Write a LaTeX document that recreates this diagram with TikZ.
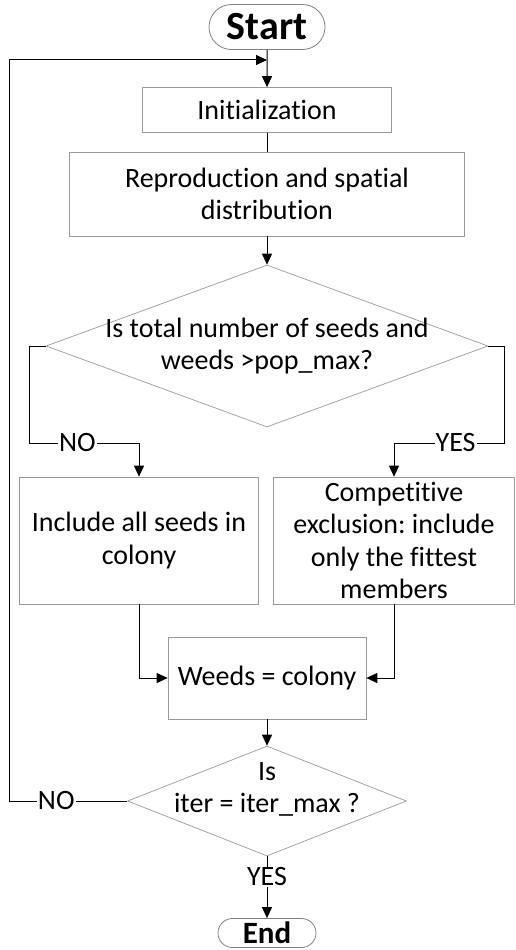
\documentclass[tikz,border=0pt]{standalone}
\usepackage{fontspec}
\setmainfont{Carlito}[Ligatures=NoCommon]
\usetikzlibrary{shapes.geometric,shapes.misc,arrows.meta}
\frenchspacing

\begin{document}
\begin{tikzpicture}[x=1pt,y=1pt,
    every node/.style={font=\fontsize{28}{32.5}\selectfont},
    term/.style={rounded rectangle,draw=gray,line width=0.8pt,inner sep=0pt,font=\fontsize{40}{42}\selectfont\bfseries},
    box/.style={rectangle,draw=gray!80,line width=0.7pt,align=center,inner sep=0pt},
    decision/.style={diamond,draw=gray!80,line width=0.7pt,align=center,aspect=2.7,inner sep=-20pt},
    link/.style={line width=1pt},
    flow/.style={link,-{Triangle[length=11pt,width=10pt]}},
    tag/.style={fill=white,inner sep=1pt,font=\fontsize{28}{30}\selectfont}]
  \useasboundingbox (0,0) rectangle (515,-950);
  \node[term,minimum width=116,minimum height=45] (start) at (267,-27) {Start};
  \node[box,minimum width=249,minimum height=45] (init) at (267,-110) {Initialization};
  \node[box,minimum width=395,minimum height=84] (repro) at (267,-194) {Reproduction and spatial\\distribution};
  \node[decision,minimum width=442,minimum height=162] (check) at (267,-346) {Is total number of seeds and\\weeds >pop\_max?};
  \node[box,minimum width=239,minimum height=127] (keep) at (139,-540.5) {Include all seeds in\\colony};
  \node[box,minimum width=241,minimum height=127] (select) at (394,-540.5) {Competitive\\exclusion: include\\only the fittest\\members};
  \node[box,minimum width=198,minimum height=82] (merge) at (267,-678) {Weeds = colony};
  \node[decision,minimum width=279,minimum height=110] (stop) at (267,-801) {Is\\iter = iter\_max ?\\[-6pt]};
  \node[term,minimum width=98,minimum height=29,font=\fontsize{31}{32}\selectfont\bfseries] (end) at (267,-933) {End};
  \coordinate (join) at (267,-60);
  \coordinate (noturn) at (29,-443);
  \coordinate (yesturn) at (504,-443);
  \coordinate (back) at (9,-801);
  \draw[flow] (start) -- (init);
  \draw[link] (init) -- (repro);
  \draw[flow] (repro) -- (check);
  \draw[flow] (check.west) -| (noturn) -| node[tag,pos=0.22]{NO} (keep.north);
  \draw[flow] (check.east) -| (yesturn) -| node[tag,pos=0.22]{YES} (select.north);
  \draw[flow] (keep.south) |- (merge.west);
  \draw[flow] (select.south) |- (merge.east);
  \draw[flow] (merge) -- (stop);
  \draw[flow] (stop.south) -- node[tag,pos=0.33]{YES} (end.north);
  \draw[flow] (stop.west) -- node[tag,pos=0.6]{NO} (back) |- (join);
\end{tikzpicture}
\end{document}
